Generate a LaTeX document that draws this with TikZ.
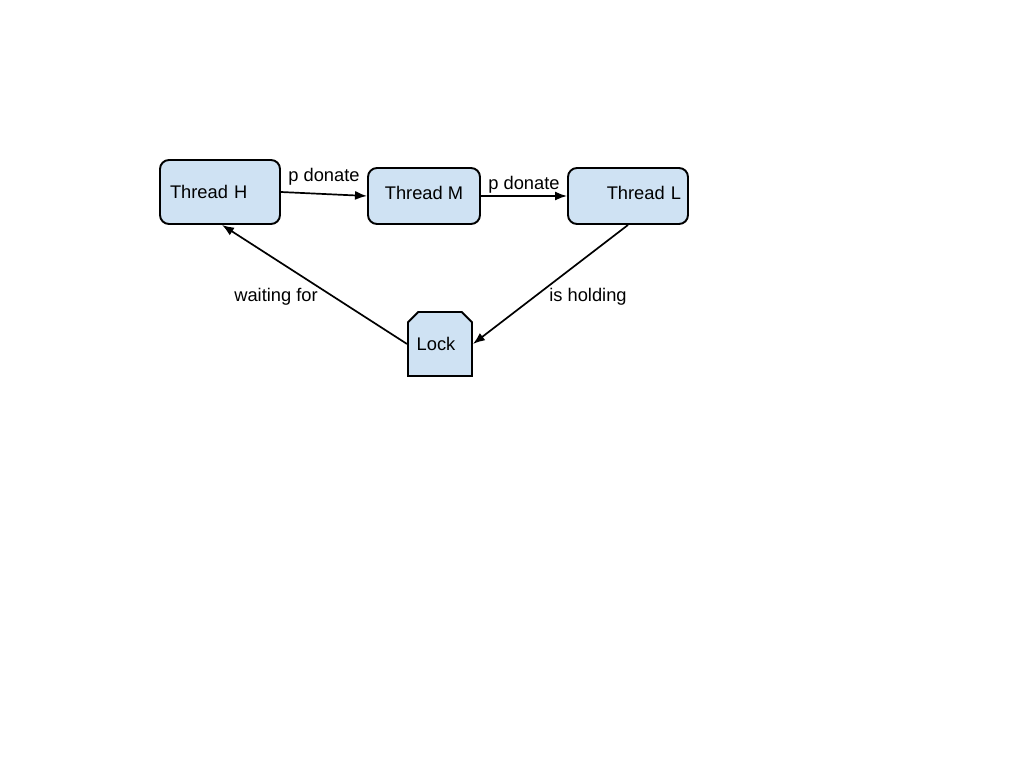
\documentclass[tikz,border=0pt]{standalone}
\usepackage{fontspec}
\setmainfont{Liberation Sans}
\usetikzlibrary{arrows.meta,shapes.misc}
\definecolor{boxfill}{HTML}{CFE2F3}
\tikzset{
  thr/.style={draw=black, line width=1.9pt, fill=boxfill, rounded corners=9pt,
    minimum height=64pt, inner ysep=0pt, font=\fontsize{18.3}{20}\selectfont},
  lockbox/.style={draw=black, line width=1.9pt, fill=boxfill, chamfered rectangle,
    chamfered rectangle corners={north east,north west}, chamfered rectangle xsep=9pt,
    minimum width=64pt, minimum height=64pt, inner sep=0pt, font=\fontsize{18.3}{20}\selectfont},
  conn/.style={line width=1.7pt, -{Latex[length=12pt,width=9pt]}},
  lbl/.style={font=\fontsize{18.3}{20}\selectfont, inner sep=0pt}
}
\begin{document}
\begin{tikzpicture}[x=1pt,y=-1pt]
\useasboundingbox[fill=white] (0,0) rectangle (1024,768);
\node[thr, text width=100pt, inner xsep=10pt, align=left] (H) at (220,192) {Thread H};
\node[thr, minimum width=112pt, minimum height=56pt] (M) at (424,196) {\raisebox{7pt}{Thread M}};
\node[thr, minimum height=56pt, text width=106pt, inner xsep=7pt, align=right] (L) at (628,196) {\raisebox{7pt}{Thread L}};
\node[lockbox] (K) at (440,344) {\hspace*{-8pt}Lock};
\draw[conn] (H.east) -- (M.west);
\draw[conn] (M.east) -- (L.west);
\draw[conn] (L.south) -- (K.east);
\draw[conn] (K.west) -- ([xshift=2pt]H.south);
\node[lbl] (l1) at (324,177) {p donate};
\node[lbl] (l2) at (524,185) {p donate};
\node[lbl] (l3) at (276,297) {waiting for};
\node[lbl] (l4) at (588,297) {is holding};
\end{tikzpicture}
\end{document}
